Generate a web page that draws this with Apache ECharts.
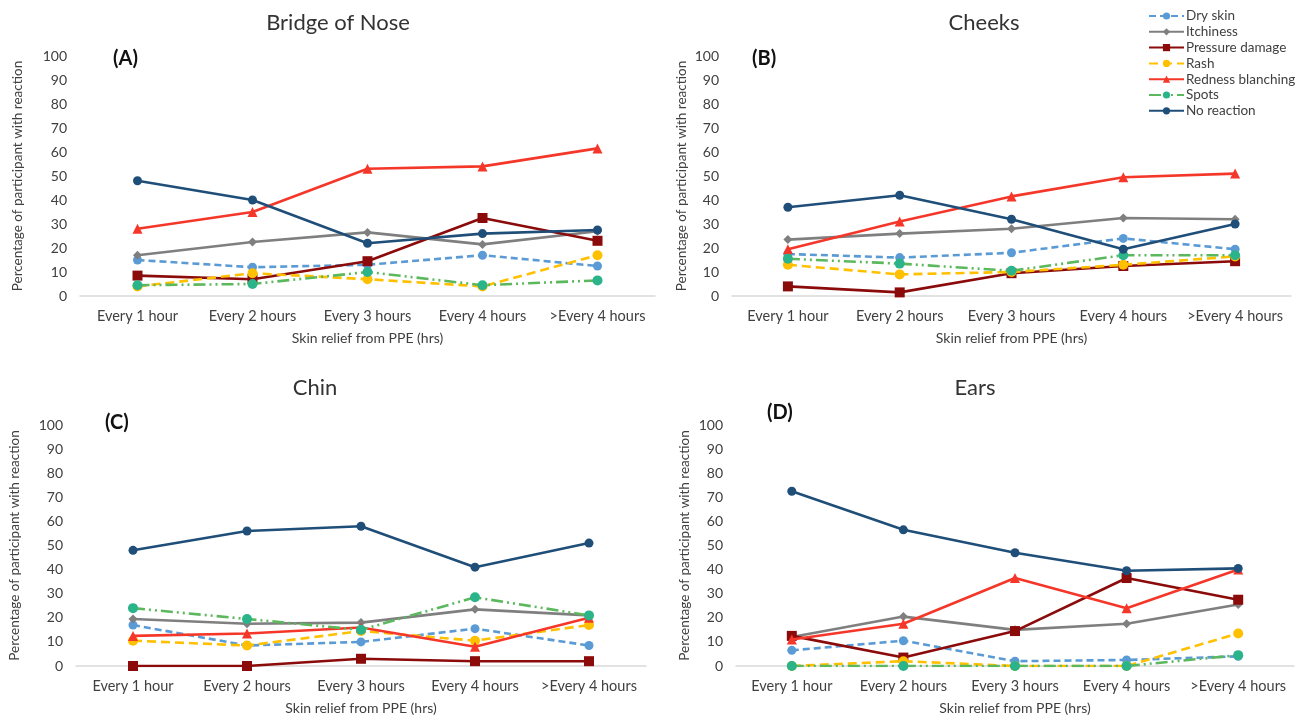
<!DOCTYPE html>
<html>
<head>
<meta charset="utf-8">
<script src="https://cdn.jsdelivr.net/npm/echarts@6/dist/echarts.min.js"></script>
<style>
  html, body { margin: 0; padding: 0; background: #fff; }
  #chart { width: 1304px; height: 718px; }
</style>
</head>
<body>
<div id="chart"></div>
<script>
var categories = ['Every 1 hour', 'Every 2 hours', 'Every 3 hours', 'Every 4 hours', '>Every 4 hours'];
var seriesNames = ['Dry skin', 'Itchiness', 'Pressure damage', 'Rash', 'Redness blanching', 'Spots', 'No reaction'];
var panelTitles = ['Bridge of Nose', 'Cheeks', 'Chin', 'Ears'];
var panelLetters = ['(A)', '(B)', '(C)', '(D)'];
var yTicks = [0, 10, 20, 30, 40, 50, 60, 70, 80, 90, 100];

// values per panel, in the order of seriesNames
var noseValues = [
    [15, 12, 13, 17, 12.5],
    [17, 22.5, 26.5, 21.5, 27],
    [8.5, 7, 14.5, 32.5, 23],
    [4, 9.5, 7, 4, 17],
    [28, 35, 53, 54, 61.5],
    [4.5, 5, 10, 4.5, 6.5],
    [48, 40, 22, 26, 27.5]
];
var cheekValues = [
    [17.5, 16, 18, 24, 19.5],
    [23.5, 26, 28, 32.5, 32],
    [4, 1.5, 9.5, 12.5, 14.5],
    [13, 9, 10, 13, 16.5],
    [19.5, 31, 41.5, 49.5, 51],
    [15.5, 13.5, 10.5, 17, 17],
    [37, 42, 32, 19.5, 30]
];
var chinValues = [
    [17, 8.5, 10, 15.5, 8.5],
    [19.5, 17.5, 18, 23.5, 21],
    [0, 0, 3, 2, 2],
    [10.5, 8.5, 14.5, 10.5, 17],
    [12.5, 13.5, 16, 8, 20],
    [24, 19.5, 15, 28.5, 21],
    [48, 56, 58, 41, 51]
];
var earValues = [
    [6.5, 10.5, 2, 2.5, 4],
    [12, 20.5, 15, 17.5, 25.5],
    [12.5, 3.5, 14.5, 36.5, 27.5],
    [0, 2, 0, 0, 13.5],
    [11, 17.5, 36.5, 24, 40],
    [0, 0, 0, 0, 4.5],
    [72.5, 56.5, 47, 39.5, 40.5]
];
var panelValues = [noseValues, cheekValues, chinValues, earValues];

var chart = echarts.init(document.getElementById('chart'));
var font = 'Lato';
var textColor = '#404040';

// line look for each reaction
var styles = [
    { color: '#5b9bd5', type: [7, 4], symbol: 'circle', size: 9 },
    { color: '#7f7f7f', type: 'solid', symbol: 'diamond', size: 9 },
    { color: '#8b0a0a', type: 'solid', symbol: 'rect', size: 10 },
    { color: '#ffc000', type: [9, 5], symbol: 'circle', size: 10 },
    { color: '#f5372a', type: 'solid', symbol: 'triangle', size: 10 },
    { color: '#5bb85d', type: [12, 4, 2, 4, 2, 4], symbol: 'circle', size: 10, symbolColor: '#2bb38a' },
    { color: '#1f4e79', type: 'solid', symbol: 'circle', size: 9 }
];

var grids = [
    { left: 80, top: 56, width: 575, height: 240 },
    { left: 732, top: 56, width: 559, height: 240 },
    { left: 76, top: 425, width: 570, height: 241 },
    { left: 736, top: 425, width: 558, height: 241 }
];
var yNameGaps = [55, 43, 54, 44];
var titlePos = [
    { left: 333, top: 7 },
    { left: 979, top: 7 },
    { left: 310, top: 372 },
    { left: 970, top: 372 }
];
var letterPos = [
    { left: 108, top: 44 },
    { left: 747, top: 44 },
    { left: 100, top: 408 },
    { left: 762, top: 398 }
];

var titles = [];
var xAxes = [];
var yAxes = [];
var series = [];

grids.forEach(function (g, p) {
    titles.push({
        text: panelTitles[p],
        left: titlePos[p].left,
        top: titlePos[p].top,
        textAlign: 'center',
        textStyle: { fontFamily: font, fontSize: 22, fontWeight: 'normal', color: '#333' }
    });
    titles.push({
        text: panelLetters[p],
        left: letterPos[p].left,
        top: letterPos[p].top,
        textStyle: { fontFamily: font, fontSize: 20, fontWeight: 'bold', color: '#111' }
    });
    xAxes.push({
        type: 'category',
        gridIndex: p,
        data: categories,
        name: 'Skin relief from PPE (hrs)',
        nameLocation: 'middle',
        nameGap: 35,
        nameTextStyle: { fontFamily: font, fontSize: 14, color: textColor },
        axisLine: { lineStyle: { color: '#d9d9d9', width: 1.5 } },
        axisTick: { show: false },
        axisLabel: { fontFamily: font, fontSize: 14.5, color: textColor, margin: 13, interval: 0 },
        splitLine: { show: false }
    });
    yAxes.push({
        type: 'value',
        gridIndex: p,
        min: yTicks[0],
        max: yTicks[yTicks.length - 1],
        interval: yTicks[1] - yTicks[0],
        name: 'Percentage of participant with reaction',
        nameLocation: 'middle',
        nameGap: yNameGaps[p],
        nameTextStyle: { fontFamily: font, fontSize: 13.5, color: textColor },
        axisLine: { show: false },
        axisTick: { show: false },
        axisLabel: { fontFamily: font, fontSize: 14, color: textColor, margin: 13 },
        splitLine: { show: false }
    });
    panelValues[p].forEach(function (vals, i) {
        var s = styles[i];
        series.push({
            name: seriesNames[i],
            type: 'line',
            xAxisIndex: p,
            yAxisIndex: p,
            data: vals,
            symbol: s.symbol,
            symbolSize: s.size,
            showAllSymbol: true,
            lineStyle: { color: s.color, width: 2.6, type: s.type },
            itemStyle: { color: s.symbolColor || s.color },
            z: 2 + i
        });
    });
});

option = {
    backgroundColor: '#fff',
    animation: false,
    title: titles,
    legend: {
        orient: 'vertical',
        left: 1143,
        top: 4,
        itemWidth: 35,
        itemHeight: 9,
        itemGap: 1.8,
        data: seriesNames,
        textStyle: { fontFamily: font, fontSize: 13.5, color: textColor, padding: [0, 0, 0, -3] }
    },
    grid: grids,
    xAxis: xAxes,
    yAxis: yAxes,
    series: series
};

chart.setOption(option);
</script>
</body>
</html>
